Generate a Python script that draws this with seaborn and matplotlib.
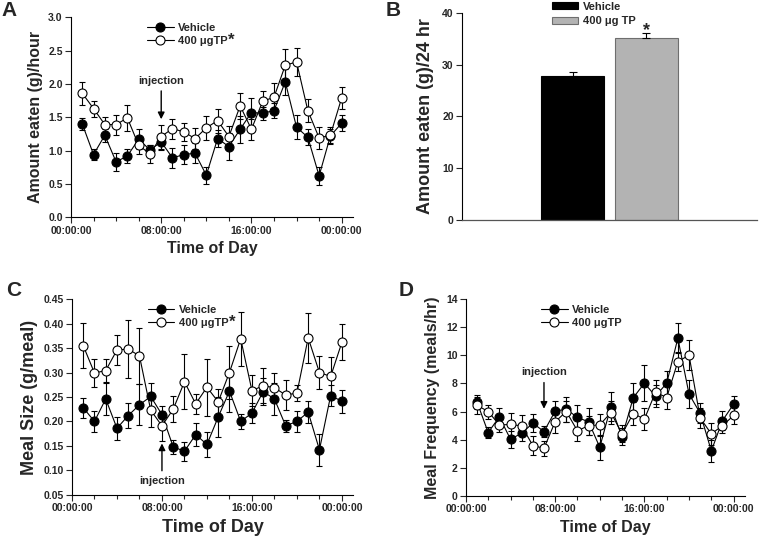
import matplotlib
matplotlib.use("Agg")
import matplotlib.pyplot as plt
import seaborn as sns

# hourly bins (1..24) and x tick labels
hours = list(range(1, 25))
tick_pos = [0, 8, 16, 24]
tick_labels = ['00:00:00', '08:00:00', '16:00:00', '00:00:00']

# A: amount eaten per hour (mean, sem)
a_veh = [1.40, 0.94, 1.23, 0.83, 0.92, 1.17, 1.01, 1.13, 0.89, 0.94, 0.96, 0.63,
         1.18, 1.06, 1.32, 1.57, 1.56, 1.60, 2.03, 1.35, 1.20, 0.62, 1.22, 1.41]
a_veh_sem = [0.09, 0.08, 0.10, 0.14, 0.10, 0.15, 0.08, 0.12, 0.15, 0.14, 0.15, 0.13,
             0.13, 0.20, 0.20, 0.22, 0.10, 0.11, 0.20, 0.18, 0.12, 0.13, 0.10, 0.12]
a_tp = [1.86, 1.63, 1.39, 1.39, 1.49, 1.08, 0.95, 1.21, 1.33, 1.28, 1.18, 1.34,
        1.45, 1.21, 1.67, 1.32, 1.74, 1.80, 2.28, 2.33, 1.60, 1.19, 1.23, 1.79]
a_tp_sem = [0.17, 0.12, 0.12, 0.15, 0.19, 0.13, 0.14, 0.18, 0.15, 0.14, 0.16, 0.18,
            0.18, 0.16, 0.20, 0.16, 0.16, 0.21, 0.24, 0.21, 0.17, 0.17, 0.13, 0.16]

# B: 24 h intake
b_groups = ['Vehicle', '400 \u03bcg TP']
b_mean = [27.8, 35.1]
b_sem = [0.7, 1.1]

# C: meal size
c_veh = [0.228, 0.200, 0.246, 0.186, 0.212, 0.234, 0.251, 0.214, 0.148, 0.139, 0.173, 0.153,
         0.209, 0.262, 0.200, 0.217, 0.261, 0.246, 0.191, 0.200, 0.219, 0.142, 0.253, 0.241]
c_veh_sem = [0.020, 0.021, 0.032, 0.024, 0.026, 0.042, 0.028, 0.018, 0.015, 0.019, 0.023, 0.026,
             0.040, 0.042, 0.016, 0.020, 0.027, 0.032, 0.012, 0.022, 0.022, 0.033, 0.022, 0.023]
c_tp = [0.355, 0.299, 0.304, 0.346, 0.348, 0.334, 0.223, 0.191, 0.225, 0.281, 0.236, 0.270,
        0.240, 0.300, 0.369, 0.263, 0.273, 0.269, 0.254, 0.258, 0.371, 0.300, 0.292, 0.362]
c_tp_sem = [0.046, 0.029, 0.024, 0.031, 0.060, 0.058, 0.035, 0.030, 0.027, 0.056, 0.021, 0.058,
            0.026, 0.055, 0.055, 0.031, 0.036, 0.030, 0.031, 0.016, 0.051, 0.034, 0.040, 0.037]

# D: meal frequency
d_veh = [6.67, 4.51, 5.62, 4.03, 4.46, 5.17, 4.58, 6.03, 6.17, 5.58, 5.27, 3.46,
         6.36, 4.20, 6.98, 8.02, 7.10, 8.02, 11.22, 7.25, 5.88, 3.20, 5.36, 6.53]
d_veh_sem = [0.50, 0.40, 0.60, 0.60, 0.55, 0.65, 0.40, 0.70, 0.90, 0.90, 0.95, 0.90,
             1.05, 0.60, 1.05, 1.30, 0.80, 0.85, 1.05, 1.00, 0.70, 0.80, 0.70, 0.55]
d_tp = [6.45, 6.00, 5.05, 5.08, 4.98, 3.58, 3.39, 5.27, 6.00, 4.63, 5.00, 5.05,
        5.93, 4.41, 5.86, 5.46, 7.38, 7.00, 9.56, 10.01, 5.55, 4.41, 5.00, 5.72]
d_tp_sem = [0.60, 0.50, 0.50, 0.80, 0.75, 0.70, 0.55, 0.80, 0.75, 0.75, 0.65, 0.80,
            0.80, 0.60, 0.85, 0.80, 0.85, 0.85, 0.70, 1.05, 0.70, 0.80, 0.50, 0.60]

sns.set_style("ticks")
plt.rcParams['font.family'] = ['Liberation Sans', 'DejaVu Sans']
plt.rcParams['font.weight'] = 'bold'
plt.rcParams['axes.labelweight'] = 'bold'
plt.rcParams['xtick.direction'] = 'out'
plt.rcParams['ytick.direction'] = 'out'

fig = plt.figure(figsize=(7.6, 5.39), dpi=100)
axA = fig.add_axes([0.0934, 0.597, 0.371, 0.371])
axB = fig.add_axes([0.608, 0.592, 0.388, 0.384])
axC = fig.add_axes([0.0947, 0.082, 0.370, 0.363])
axD = fig.add_axes([0.613, 0.080, 0.367, 0.365])

arrow_kw = dict(arrowstyle='-|>', color='black', lw=1.0, shrinkA=1.5, shrinkB=0,
                mutation_scale=10)


def hourly_panel(ax, veh, veh_sem, tp, tp_sem, tp_label):
    for vals, sem in [(veh, veh_sem), (tp, tp_sem)]:
        ax.errorbar(hours, vals, yerr=sem, fmt='none', ecolor='black',
                    elinewidth=0.8, capsize=2.5, capthick=0.8, zorder=2)
    sns.lineplot(x=hours, y=veh, ax=ax, color='black', lw=0.8, marker='o',
                 markersize=6.5, markerfacecolor='black', markeredgecolor='black',
                 markeredgewidth=0.8, label='Vehicle', zorder=3)
    sns.lineplot(x=hours, y=tp, ax=ax, color='black', lw=0.8, marker='o',
                 markersize=6.5, markerfacecolor='white', markeredgecolor='black',
                 markeredgewidth=0.8, label=tp_label, zorder=4)
    ax.set_xlim(0, 25)
    ax.set_xticks(tick_pos, tick_labels)
    ax.set_xticks(range(0, 25, 2), minor=True)
    ax.tick_params(axis='both', which='major', labelsize=7.5, length=4, width=0.8, pad=2)
    ax.tick_params(axis='x', which='minor', length=3, width=0.8)
    for s in ['top', 'right']:
        ax.spines[s].set_visible(False)
    for s in ['left', 'bottom']:
        ax.spines[s].set_linewidth(0.8)
        ax.spines[s].set_color('black')
    leg = ax.legend(loc='upper left', bbox_to_anchor=(0.25, 1.0), frameon=False,
                    fontsize=8, handlelength=2.4, handletextpad=0.4, labelspacing=0.3,
                    borderaxespad=0.1)
    for t in leg.get_texts():
        t.set_fontweight('bold')
    return leg


def add_star(leg):
    fig.canvas.draw()
    bb = leg.get_texts()[1].get_window_extent()
    x, y = fig.transFigure.inverted().transform((bb.x1, bb.y1))
    fig.text(x, y + 0.006, '*', fontsize=12, fontweight='bold', ha='left', va='top')


# Panel A
legA = hourly_panel(axA, a_veh, a_veh_sem, a_tp, a_tp_sem, '400 \u03bcgTP')
axA.set_ylim(0, 3.0)
axA.set_yticks([0, 0.5, 1.0, 1.5, 2.0, 2.5, 3.0])
axA.yaxis.set_major_formatter(matplotlib.ticker.FormatStrFormatter('%.1f'))
axA.set_ylabel('Amount eaten (g)/hour', fontsize=11.5, labelpad=4)
axA.set_xlabel('Time of Day', fontsize=11.5, labelpad=4)
axA.annotate('injection', xy=(8, 1.47), xytext=(8, 2.05), ha='center', va='center',
             fontsize=8, fontweight='bold', arrowprops=arrow_kw)

# Panel B
sns.barplot(x=b_groups, y=b_mean, hue=b_groups, ax=axB, palette=['black', '#b3b3b3'],
            width=0.85, legend=False, saturation=1)
for patch, ec in zip(axB.patches, ['black', '#6e6e6e']):
    patch.set_edgecolor(ec)
    patch.set_linewidth(0.8)
axB.errorbar([0, 1], b_mean, yerr=[[0, 0], b_sem], fmt='none', ecolor='black',
             elinewidth=0.8, capsize=3, capthick=0.8)
axB.set_xlim(-1.5, 2.5)
axB.set_ylim(0, 40)
axB.set_yticks([0, 10, 20, 30, 40])
axB.set_xticks([])
axB.set_xlabel('')
axB.tick_params(axis='y', labelsize=7.5, length=4, width=0.8, pad=2)
axB.set_ylabel('Amount eaten (g)/24 hr', fontsize=13, labelpad=6)
for s in ['top', 'right']:
    axB.spines[s].set_visible(False)
axB.spines['left'].set_color('black')
axB.spines['left'].set_linewidth(0.8)
axB.spines['bottom'].set_color('#555555')
axB.spines['bottom'].set_linewidth(0.9)
axB.text(1, 35.7, '*', ha='center', va='baseline', fontsize=13, fontweight='bold')
legB = axB.legend(handles=axB.patches[:2], labels=b_groups, loc='upper left',
                  bbox_to_anchor=(0.29, 1.075), frameon=False, fontsize=8,
                  handlelength=2.3, handleheight=0.6, handletextpad=0.5, labelspacing=0.4,
                  borderaxespad=0)
for t in legB.get_texts():
    t.set_fontweight('bold')

# Panel C
legC = hourly_panel(axC, c_veh, c_veh_sem, c_tp, c_tp_sem, '400 \u03bcgTP')
axC.set_ylim(0.05, 0.45)
axC.set_yticks([0.05, 0.10, 0.15, 0.20, 0.25, 0.30, 0.35, 0.40, 0.45])
axC.yaxis.set_major_formatter(matplotlib.ticker.FormatStrFormatter('%.2f'))
axC.set_ylabel('Meal Size (g/meal)', fontsize=13, labelpad=4)
axC.set_xlabel('Time of Day', fontsize=13, labelpad=4)
axC.annotate('injection', xy=(8, 0.155), xytext=(8, 0.078), ha='center', va='center',
             fontsize=8, fontweight='bold', arrowprops=arrow_kw)

# Panel D
hourly_panel(axD, d_veh, d_veh_sem, d_tp, d_tp_sem, '400 \u03bcgTP')
axD.set_ylim(0, 14)
axD.set_yticks(range(0, 15, 2))
axD.set_ylabel('Meal Frequency (meals/hr)', fontsize=11.5, labelpad=4)
axD.set_xlabel('Time of Day', fontsize=11.5, labelpad=4)
axD.annotate('injection', xy=(7, 6.2), xytext=(7, 8.8), ha='center', va='center',
             fontsize=8, fontweight='bold', arrowprops=arrow_kw)

# panel letters
for lx, ly, letter in [(0.002, 0.998, 'A'), (0.508, 0.998, 'B'),
                       (0.008, 0.478, 'C'), (0.524, 0.478, 'D')]:
    fig.text(lx, ly, letter, fontsize=15, fontweight='bold', ha='left', va='top')

add_star(legA)
add_star(legC)

fig.savefig('out.png', dpi=100)
